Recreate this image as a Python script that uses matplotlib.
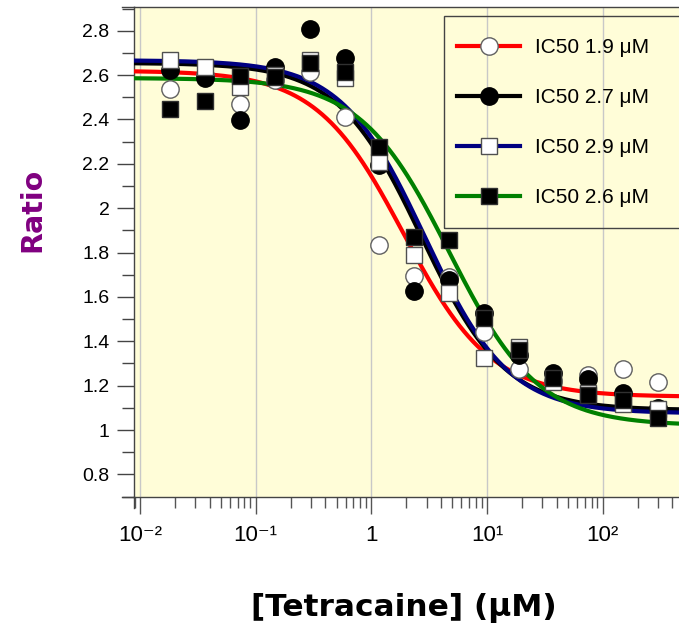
import numpy as np
import matplotlib
matplotlib.use("Agg")
import matplotlib.pyplot as plt
from matplotlib.lines import Line2D
from matplotlib.patches import Rectangle
from matplotlib.ticker import LogLocator, FuncFormatter, MultipleLocator, NullFormatter

# Tetracaine concentrations (µM), two-fold dilution series
conc = [0.0183, 0.0366, 0.0732, 0.146, 0.293, 0.586, 1.17, 2.34, 4.69,
        9.38, 18.75, 37.5, 75.0, 150.0, 300.0]

# Measured ratios for each of the four runs
ratio_run1 = [2.537, 2.600, 2.468, 2.580, 2.615, 2.409, 1.834, 1.695, 1.690,
              1.443, 1.273, 1.220, 1.248, 1.275, 1.215]
ratio_run2 = [2.623, 2.585, 2.397, 2.635, 2.806, 2.676, 2.195, 1.626, 1.675,
              1.526, 1.338, 1.255, 1.230, 1.165, 1.100]
ratio_run3 = [2.667, 2.638, 2.548, 2.600, 2.668, 2.588, 2.209, 1.788, 1.616,
              1.326, 1.374, 1.215, 1.165, 1.116, 1.093]
ratio_run4 = [2.447, 2.484, 2.596, 2.590, 2.653, 2.615, 2.277, 1.868, 1.856,
              1.503, 1.360, 1.233, 1.157, 1.135, 1.055]

# Four-parameter logistic fits for each run
fit_top = [2.620, 2.655, 2.667, 2.587]
fit_bottom = [1.150, 1.090, 1.075, 1.020]
fit_x50 = [1.9, 2.7, 2.9, 4.7]
fit_hill = [1.15, 1.20, 1.20, 1.13]

legend_labels = ["IC50 1.9 \u03bcM", "IC50 2.7 \u03bcM", "IC50 2.9 \u03bcM", "IC50 2.6 \u03bcM"]
line_colors = ["#ff0000", "#000000", "#000080", "#008000"]
marker_shapes = ["o", "o", "s", "s"]
marker_faces = ["white", "black", "white", "black"]
marker_edges = ["#606060", "#000000", "#505050", "#303030"]
marker_sizes = [12.5, 12.5, 11.5, 11.5]

plt.rcParams["font.family"] = ["Liberation Sans", "DejaVu Sans"]

W, H = 679, 627
fig = plt.figure(figsize=(W / 100, H / 100), dpi=100)
ax_l, ax_r, ax_t, ax_b = 134, 700, 7, 497
ax = fig.add_axes([ax_l / W, (H - ax_b) / H, (ax_r - ax_l) / W, (ax_b - ax_t) / H])

bg = "#fffdd8"
ax.set_facecolor(bg)
ax.set_xscale("log")
xmin, xmax = 10 ** -2.052, 10 ** 2.841
ax.set_xlim(xmin, xmax)
ax.set_ylim(0.698, 2.907)

spine_c = "#444444"
for side in ["left", "top", "bottom"]:
    ax.spines[side].set_color(spine_c)
    ax.spines[side].set_linewidth(1)
ax.spines["right"].set_visible(False)

ax.yaxis.set_major_locator(MultipleLocator(0.2))
ax.yaxis.set_minor_locator(MultipleLocator(0.1))
ax.yaxis.set_major_formatter(FuncFormatter(lambda v, p: f"{v:g}"))
ax.xaxis.set_major_locator(LogLocator(base=10, numticks=20))
ax.xaxis.set_minor_locator(LogLocator(base=10, subs=np.arange(2, 10), numticks=20))
ax.xaxis.set_minor_formatter(NullFormatter())

SUP = str.maketrans("-0123456789", "\u207b\u2070\u00b9\u00b2\u00b3\u2074\u2075\u2076\u2077\u2078\u2079")


def xfmt(v, p):
    e = int(round(np.log10(v)))
    return "1" if e == 0 else "10" + str(e).translate(SUP)


ax.xaxis.set_major_formatter(FuncFormatter(xfmt))

ax.tick_params(axis="y", which="major", length=12.2, width=1, color=spine_c,
               labelsize=14, pad=5.5)
ax.tick_params(axis="y", which="minor", length=8.6, width=1, color=spine_c)
ax.tick_params(axis="x", which="major", length=12.2, width=1, color="#555555",
               labelsize=16, pad=8)
ax.tick_params(axis="x", which="minor", length=7.9, width=1, color="#555555")

ax.grid(axis="x", which="major", color="#c8c8c8", lw=1)
ax.set_axisbelow(True)

# fitted curves
xs = np.logspace(np.log10(xmin), np.log10(xmax), 500)
for i in range(4):
    ys = fit_bottom[i] + (fit_top[i] - fit_bottom[i]) / (1 + (xs / fit_x50[i]) ** fit_hill[i])
    ax.plot(xs, ys, color=line_colors[i], lw=3, zorder=3, solid_capstyle="butt")

# measured points
runs = [ratio_run1, ratio_run2, ratio_run3, ratio_run4]
for i, r in enumerate(runs):
    ax.plot(conc, r, linestyle="none", marker=marker_shapes[i], ms=marker_sizes[i],
            mfc=marker_faces[i], mec=marker_edges[i], mew=1, zorder=5 + i)

# legend
handles = [Line2D([], [], color=line_colors[i], lw=3, marker=marker_shapes[i],
                  ms=marker_sizes[i], mfc=marker_faces[i], mec=marker_edges[i], mew=1)
           for i in range(4)]
leg = ax.legend(handles, legend_labels, loc="upper left",
                bbox_to_anchor=(457 / W, 1 - 38 / H), bbox_transform=fig.transFigure,
                frameon=False, borderpad=0, borderaxespad=0, numpoints=1,
                handlelength=3.03, handletextpad=0.72, labelspacing=1.49,
                prop={"family": "Liberation Sans", "size": 15})
fig.patches.append(Rectangle((444 / W, 1 - 228 / H), (700 - 444) / W, (228 - 16) / H,
                             transform=fig.transFigure, fill=False,
                             edgecolor="#444444", lw=1))

# frame extensions
fig.lines.append(Line2D([122 / W, ax_l / W], [1 - ax_t / H, 1 - ax_t / H],
                        transform=fig.transFigure, color=spine_c, lw=1))
fig.lines.append(Line2D([122 / W, ax_l / W], [1 - ax_b / H, 1 - ax_b / H],
                        transform=fig.transFigure, color=spine_c, lw=1))
fig.lines.append(Line2D([ax_l / W, ax_l / W], [1 - ax_b / H, 1 - 508 / H],
                        transform=fig.transFigure, color=spine_c, lw=1))

fig.text(32 / W, 1 - 210 / H, "Ratio", rotation=90, ha="center", va="center",
         fontsize=20.5, fontweight="bold", color="#800080", family="DejaVu Sans")
fig.text(403.5 / W, 1 - 608 / H, "[Tetracaine] (\u03bcM)", ha="center", va="center",
         fontsize=22.5, fontweight="bold", color="black", family="DejaVu Sans")

fig.savefig("out.png", dpi=100, facecolor="white")
